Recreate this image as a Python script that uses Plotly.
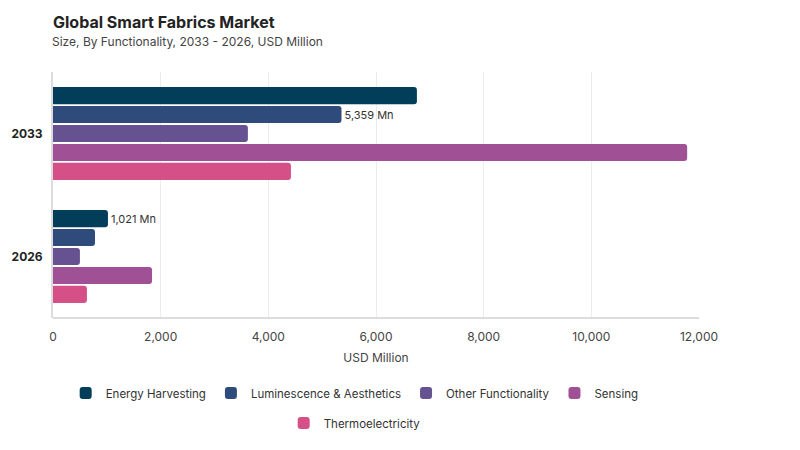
import plotly.graph_objects as go

years = ["2033", "2026"]
segments = ["Energy Harvesting", "Luminescence & Aesthetics", "Other Functionality",
            "Sensing", "Thermoelectricity"]
values = {
    "Energy Harvesting": [6760, 1021],
    "Luminescence & Aesthetics": [5359, 780],
    "Other Functionality": [3620, 500],
    "Sensing": [11780, 1840],
    "Thermoelectricity": [4420, 630],
}
labels = {
    "Energy Harvesting": ["", "1,021 Mn"],
    "Luminescence & Aesthetics": ["5,359 Mn", ""],
}
x_ticks = [0, 2000, 4000, 6000, 8000, 10000, 12000]
colors = ["#023E5A", "#2F4B7C", "#665191", "#A05195", "#D45087"]

FONT = "Inter, Lato, sans-serif"

# the page body has an 8px margin, so the layout is shifted up/left by 8px
fig = go.Figure()
for i, (seg, col) in enumerate(zip(segments, colors)):
    fig.add_trace(go.Bar(
        y=years, x=values[seg], name=seg, orientation="h",
        marker=dict(color=col, line=dict(width=0)),
        text=labels.get(seg, ["", ""]), textposition="outside",
        textfont=dict(size=11, color="#333333", family=FONT),
        cliponaxis=False,
        legend="legend2" if i == 4 else "legend",
    ))

fig.update_layout(
    width=800, height=450,
    font=dict(family=FONT, color="#333333"),
    paper_bgcolor="white", plot_bgcolor="white",
    margin=dict(l=45, r=109, t=64, b=140, autoexpand=False),
    barmode="group", bargap=0.23, bargroupgap=0.1, barcornerradius=3,
    title=dict(text="<b>Global Smart Fabrics Market</b>", x=45 / 800, xref="container",
               xanchor="left", y=1 - 14 / 450, yref="container", yanchor="middle",
               font=dict(size=16, color="#222222")),
    xaxis=dict(range=[0, 12000], tickvals=x_ticks, tickformat=",",
               showgrid=True, gridcolor="#ececec", gridwidth=1,
               zeroline=False, showline=False, ticks="", automargin=False,
               ticklabelstandoff=10,
               tickfont=dict(size=12, color="#444444"),
               title=dict(text="USD Million", font=dict(size=12, color="#444444"), standoff=10)),
    yaxis=dict(categoryorder="array", categoryarray=years, autorange="reversed",
               showgrid=False, showline=True, linecolor="#dcdcdc", linewidth=2,
               ticks="", ticklabelstandoff=6, automargin=False,
               tickfont=dict(size=12, color="#222222")),
    legend=dict(orientation="h", x=0.467, xanchor="center", y=-0.305, yanchor="middle",
                font=dict(size=11.5, color="#333333"), itemwidth=30),
    legend2=dict(orientation="h", x=0.467, xanchor="center", y=-0.427, yanchor="middle",
                 font=dict(size=11.5, color="#333333"), itemwidth=30),
)
fig.update_yaxes(tickvals=years, ticktext=["<b>2033</b>", "<b>2026</b>"])

fig.add_annotation(text="Size, By Functionality, 2033 - 2026, USD Million",
                   xref="paper", yref="paper", x=-3 / 646, y=1 + (72 - 41) / 246,
                   xanchor="left", yanchor="middle", showarrow=False,
                   font=dict(size=12, color="#444444"))
# bottom axis line
fig.add_shape(type="line", xref="paper", yref="paper", x0=0, x1=1, y0=0, y1=0,
              line=dict(color="#dcdcdc", width=2))

fig.write_html("out.html")
